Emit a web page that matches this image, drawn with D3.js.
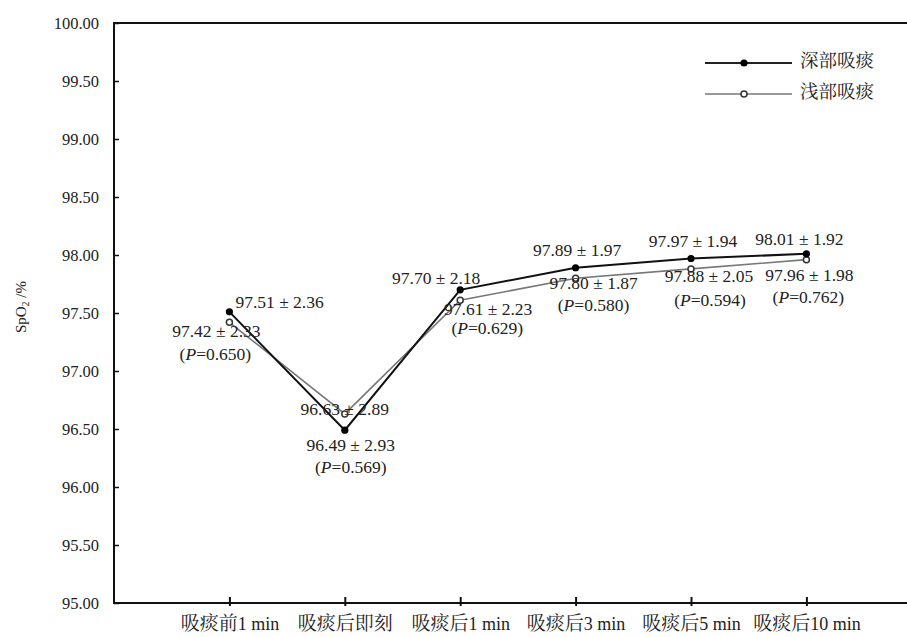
<!DOCTYPE html>
<html><head><meta charset="utf-8">
<script src="https://cdn.jsdelivr.net/npm/d3@7"></script>
<style>body{margin:0;background:#fff}svg text{font-family:"Liberation Serif","Times New Roman","Noto Serif CJK SC","Noto Sans CJK SC",serif !important;fill:#222}</style>
</head><body><svg id="c" width="907" height="637"></svg>
<script>
const categories = ["吸痰前1 min","吸痰后即刻","吸痰后1 min","吸痰后3 min","吸痰后5 min","吸痰后10 min"];
const deepMean = [97.51, 96.49, 97.70, 97.89, 97.97, 98.01];
const deepSD   = [2.36, 2.93, 2.18, 1.97, 1.94, 1.92];
const shallowMean = [97.42, 96.63, 97.61, 97.80, 97.88, 97.96];
const shallowSD   = [2.33, 2.89, 2.23, 1.87, 2.05, 1.98];
const pValues = ["0.650","0.569","0.629","0.580","0.594","0.762"];
const yTicks = [95, 95.5, 96, 96.5, 97, 97.5, 98, 98.5, 99, 99.5, 100];
const seriesNames = ["深部吸痰","浅部吸痰"];

// label layout (offsets relative to points)
const deepLab = [[6,-8,"start"],[6,17,"middle"],[-24,-10,"middle"],[1.5,-16,"middle"],[2,-15.5,"middle"],[-7,-13,"middle"]];
const shalLab = [[-13,11,"middle"],[0,-3,"middle"],[28,11,"middle"],[18,7,"middle"],[18,9,"middle"],[3,17,"middle"]];
const pLab    = [[-14,34,"middle"],[6,55,"middle"],[27,30,"middle"],[18,29,"middle"],[19,33,"middle"],[2,39,"middle"]];

const svg = d3.select("#c");
const L = 114, T = 23, B = 603, R = 907;
const x = d3.scaleLinear().domain([0, 6.5]).range([L, L + 115.4*6.5]);
const y = d3.scaleLinear().domain([95, 100]).range([B, T]);
const xi = i => x(i+1);

// write mixed CJK / Latin text: CJK runs in a larger size
function mixed(sel, str, latinSize, cjkSize) {
  sel.text(null);
  const runs = str.match(/[\u3400-\u9fff]+|[^\u3400-\u9fff]+/g) || [];
  runs.forEach(r => {
    const cjk = /[\u3400-\u9fff]/.test(r);
    sel.append("tspan").attr("font-size", cjk ? cjkSize : latinSize).text(r);
  });
}

// top border
svg.append("line").attr("x1",L).attr("x2",R).attr("y1",T).attr("y2",T).attr("stroke","#111").attr("stroke-width",2);

// y axis
const ya = svg.append("g").attr("transform",`translate(${L},0)`)
  .call(d3.axisRight(y).tickValues(yTicks).tickSize(5).tickFormat(d3.format(".2f")));
ya.attr("font-family",null);
ya.select(".domain").remove();
ya.selectAll(".tick line").attr("stroke","#111").attr("stroke-width",1.5);
ya.selectAll(".tick text").attr("x",-15).attr("text-anchor","end").attr("font-size",16.5).attr("fill","#222");
svg.append("line").attr("x1",L).attr("x2",L).attr("y1",T-1).attr("y2",B+1).attr("stroke","#111").attr("stroke-width",2);

// x axis
svg.append("line").attr("x1",L).attr("x2",R).attr("y1",B).attr("y2",B).attr("stroke","#111").attr("stroke-width",2);
const xa = svg.append("g").attr("transform",`translate(0,${B+3})`)
  .call(d3.axisBottom(x).tickValues([1,2,3,4,5,6]).tickSize(9).tickFormat(d => categories[d-1]));
xa.attr("font-family",null);
xa.select(".domain").remove();
xa.selectAll(".tick line").attr("stroke","#111").attr("stroke-width",2).attr("y1",-9).attr("y2",0);
xa.selectAll(".tick text").attr("y",20).attr("dy","0.35em").attr("fill","#222")
  .each(function(d){ mixed(d3.select(this), categories[d-1], 18, 19); });

// y title
const yt = svg.append("text").attr("transform","translate(23,307) rotate(-90)").attr("text-anchor","middle")
  .attr("dominant-baseline","middle").attr("font-size",15);
yt.append("tspan").text("SpO");
yt.append("tspan").attr("font-size",10).attr("dy",4).text("2");
yt.append("tspan").attr("dy",-4).text(" /%");

// lines
const idx = d3.range(categories.length);
const lineGen = arr => d3.line().x(i => xi(i)).y(i => y(arr[i]))(idx);
svg.append("path").attr("d",lineGen(shallowMean)).attr("fill","none").attr("stroke","#777").attr("stroke-width",1.6);
svg.append("path").attr("d",lineGen(deepMean)).attr("fill","none").attr("stroke","#111").attr("stroke-width",2);

// markers
svg.selectAll(".sm").data(idx).join("circle").attr("cx",i=>xi(i)).attr("cy",i=>y(shallowMean[i])).attr("r",3)
  .attr("fill","#fff").attr("stroke","#333").attr("stroke-width",1.5);
svg.selectAll(".dm").data(idx).join("circle").attr("cx",i=>xi(i)).attr("cy",i=>y(deepMean[i])).attr("r",3.6).attr("fill","#000");

// labels
const f2 = d3.format(".2f");
const LS = 17.5;
idx.forEach(i => {
  const px = xi(i), dy = y(deepMean[i]), sy = y(shallowMean[i]);
  svg.append("text").attr("x",px+deepLab[i][0]).attr("y",dy+deepLab[i][1]).attr("text-anchor",deepLab[i][2])
    .attr("dominant-baseline","middle").attr("font-size",LS).text(`${f2(deepMean[i])} ± ${f2(deepSD[i])}`);
  svg.append("text").attr("x",px+shalLab[i][0]).attr("y",sy+shalLab[i][1]).attr("text-anchor",shalLab[i][2])
    .attr("dominant-baseline","middle").attr("font-size",LS).text(`${f2(shallowMean[i])} ± ${f2(shallowSD[i])}`);
  const t = svg.append("text").attr("x",px+pLab[i][0]).attr("y",sy+pLab[i][1]).attr("text-anchor",pLab[i][2])
    .attr("dominant-baseline","middle").attr("font-size",LS);
  t.append("tspan").text("(");
  t.append("tspan").attr("font-style","italic").text("P");
  t.append("tspan").text(`=${pValues[i]})`);
});

// legend
const lg = svg.append("g");
[0,1].forEach(k => {
  const ly = k === 0 ? 63 : 94;
  lg.append("line").attr("x1",705).attr("x2",792).attr("y1",ly).attr("y2",ly)
    .attr("stroke", k===0 ? "#222" : "#777").attr("stroke-width", k===0 ? 2.2 : 1.4);
  if (k===0) lg.append("circle").attr("cx",744).attr("cy",ly).attr("r",3.6).attr("fill","#000");
  else lg.append("circle").attr("cx",744).attr("cy",ly).attr("r",3).attr("fill","#fff").attr("stroke","#333").attr("stroke-width",1.5);
  lg.append("text").attr("x",800).attr("y",ly).attr("dominant-baseline","middle").attr("font-size",18.5).text(seriesNames[k]);
});
</script></body></html>
